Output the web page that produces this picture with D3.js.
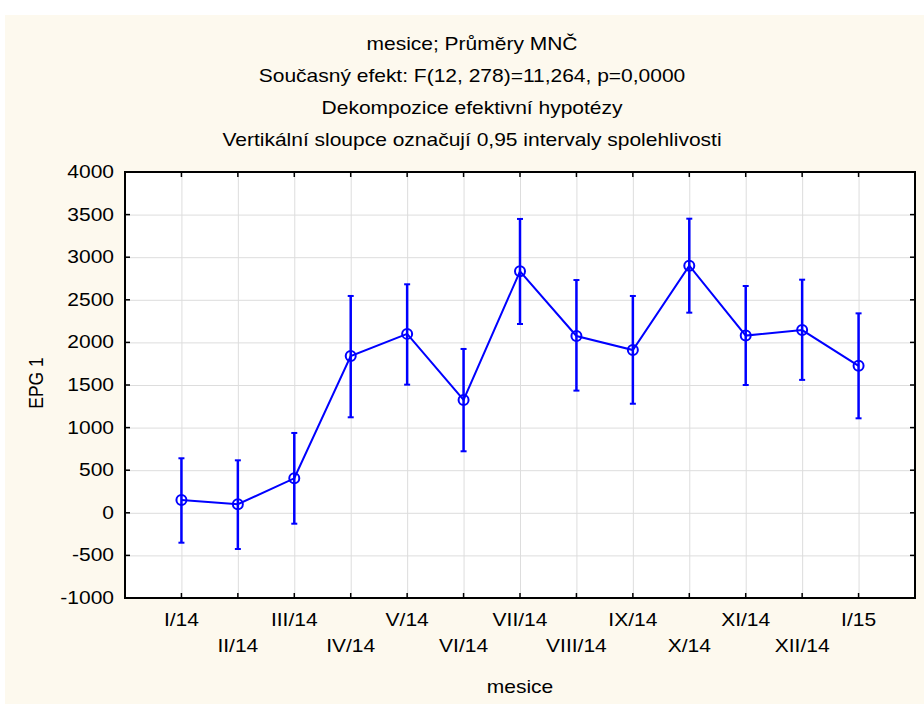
<html>
<head>
<title>mesice - Prumery MNC</title>
  <meta charset="utf-8">
  <script src="https://d3js.org/d3.v7.min.js"></script>
<style>
body { margin: 0; background: #ffffff; }
text { font-family: "Liberation Sans", Arial, sans-serif; font-size: 17.5px; fill: #000; }
.grid line { stroke: #dddddd; stroke-width: 1; }
.grid path { display: none; }
</style>
</head>
<body>
<script>
// data
var months = ["I/14","II/14","III/14","IV/14","V/14","VI/14","VII/14","VIII/14","IX/14","X/14","XI/14","XII/14","I/15"];
var means  = [150, 100, 405, 1840, 2100, 1325, 2835, 2075, 1910, 2900, 2080, 2145, 1725];
var upper  = [640, 616, 937, 2545, 2682, 1923, 3449, 2732, 2545, 3452, 2662, 2736, 2341];
var lower  = [-351, -425, -128, 1121, 1504, 722, 2216, 1434, 1280, 2349, 1500, 1560, 1109];
var yTicks = [-1000, -500, 0, 500, 1000, 1500, 2000, 2500, 3000, 3500, 4000];
var titles = ["mesice; Průměry MNČ",
              "Současný efekt: F(12, 278)=11,264, p=0,0000",
              "Dekompozice efektivní hypotézy",
              "Vertikální sloupce označují 0,95 intervaly spolehlivosti"];

var W = 924, H = 704;
var margin = {top: 172, right: 9, bottom: 106, left: 125},
    width = W - margin.left - margin.right,
    height = H - margin.top - margin.bottom;

// the source picture is a bit wider than tall, text looks stretched
var sx = 1.2;
function stretch(sel) {
  sel.each(function() {
    var t = d3.select(this);
    var x = +t.attr("x") || 0, y = +t.attr("y") || 0;
    t.attr("transform", "translate(" + x + "," + y + ") scale(" + sx + ",1)")
     .attr("x", 0).attr("y", 0);
  });
}

var root = d3.select("body").append("svg")
    .attr("width", W)
    .attr("height", H);

// cream panel
root.append("rect")
    .attr("x", 5).attr("y", 15)
    .attr("width", W - 5).attr("height", H - 15)
    .attr("fill", "#fdf9ee");

// titles
root.selectAll(".title")
    .data(titles)
  .enter().append("text")
    .attr("class", "title")
    .attr("x", 472)
    .attr("y", function(d, i) { return 50 + i * 32; })
    .style("text-anchor", "middle")
    .text(function(d) { return d; })
    .call(stretch);

var svg = root.append("g")
    .attr("transform", "translate(" + margin.left + "," + margin.top + ")");

// scales
var x = d3.scalePoint()
    .domain(months)
    .range([0, width])
    .padding(1);

var y = d3.scaleLinear()
    .domain([-1000, 4000])
    .range([height, 0]);

// plot background
svg.append("rect")
    .attr("width", width)
    .attr("height", height)
    .attr("fill", "#ffffff");

// gridlines
svg.append("g")
    .attr("class", "grid")
    .call(d3.axisLeft(y).tickValues(yTicks).tickSize(-width).tickFormat(""));
svg.append("g")
    .attr("class", "grid")
    .attr("transform", "translate(0," + height + ")")
    .call(d3.axisBottom(x).tickSize(-height).tickFormat(""));

// frame
svg.append("rect")
    .attr("width", width)
    .attr("height", height)
    .attr("fill", "none")
    .attr("stroke", "#000")
    .attr("stroke-width", 2);

// inside ticks on all four sides
var tk = 5;
svg.selectAll(".tl").data(yTicks).enter().append("line")
    .attr("x1", 0).attr("x2", tk)
    .attr("y1", function(d) { return y(d); }).attr("y2", function(d) { return y(d); })
    .attr("stroke", "#000").attr("stroke-width", 1.5);
svg.selectAll(".tr").data(yTicks).enter().append("line")
    .attr("x1", width - tk).attr("x2", width)
    .attr("y1", function(d) { return y(d); }).attr("y2", function(d) { return y(d); })
    .attr("stroke", "#000").attr("stroke-width", 1.5);
svg.selectAll(".tb").data(months).enter().append("line")
    .attr("x1", function(d) { return x(d); }).attr("x2", function(d) { return x(d); })
    .attr("y1", height - tk).attr("y2", height)
    .attr("stroke", "#000").attr("stroke-width", 1.5);
svg.selectAll(".tt").data(months).enter().append("line")
    .attr("x1", function(d) { return x(d); }).attr("x2", function(d) { return x(d); })
    .attr("y1", 0).attr("y2", tk)
    .attr("stroke", "#000").attr("stroke-width", 1.5);

// y tick labels
svg.selectAll(".ylab")
    .data(yTicks)
  .enter().append("text")
    .attr("x", -11)
    .attr("y", function(d) { return y(d) + 6; })
    .style("text-anchor", "end")
    .text(function(d) { return d; })
    .call(stretch);

// x tick labels, alternating two rows
svg.selectAll(".xlab")
    .data(months)
  .enter().append("text")
    .attr("x", function(d) { return x(d); })
    .attr("y", function(d, i) { return i % 2 == 0 ? height + 28 : height + 53.5; })
    .style("text-anchor", "middle")
    .text(function(d) { return d; })
    .call(stretch);

// axis titles
svg.append("text")
    .attr("x", width / 2)
    .attr("y", height + 95)
    .style("text-anchor", "middle")
    .text("mesice")
    .call(stretch);

svg.append("text")
    .attr("transform", "translate(" + (43 - margin.left) + "," + (height / 2 - 2) + ") rotate(-90) scale(1," + sx + ")")
    .style("text-anchor", "middle")
    .text("EPG 1");

// error bars
var blue = "#0000ff";
var cap = 3;
var bars = svg.selectAll(".err")
    .data(months)
  .enter().append("g");
bars.append("line")
    .attr("x1", function(d) { return x(d); }).attr("x2", function(d) { return x(d); })
    .attr("y1", function(d, i) { return y(upper[i]); })
    .attr("y2", function(d, i) { return y(lower[i]); })
    .attr("stroke", blue).attr("stroke-width", 2.5);
bars.append("line")
    .attr("x1", function(d) { return x(d) - cap; }).attr("x2", function(d) { return x(d) + cap; })
    .attr("y1", function(d, i) { return y(upper[i]); })
    .attr("y2", function(d, i) { return y(upper[i]); })
    .attr("stroke", blue).attr("stroke-width", 2);
bars.append("line")
    .attr("x1", function(d) { return x(d) - cap; }).attr("x2", function(d) { return x(d) + cap; })
    .attr("y1", function(d, i) { return y(lower[i]); })
    .attr("y2", function(d, i) { return y(lower[i]); })
    .attr("stroke", blue).attr("stroke-width", 2);

// mean line
var line = d3.line()
    .x(function(d, i) { return x(months[i]); })
    .y(function(d) { return y(d); });
svg.append("path")
    .datum(means)
    .attr("d", line)
    .attr("fill", "none")
    .attr("stroke", blue)
    .attr("stroke-width", 2);

// markers
svg.selectAll(".pt")
    .data(means)
  .enter().append("circle")
    .attr("cx", function(d, i) { return x(months[i]); })
    .attr("cy", function(d) { return y(d); })
    .attr("r", 5)
    .attr("fill", "none")
    .attr("stroke", blue)
    .attr("stroke-width", 2);
</script>
</body>
</html>
